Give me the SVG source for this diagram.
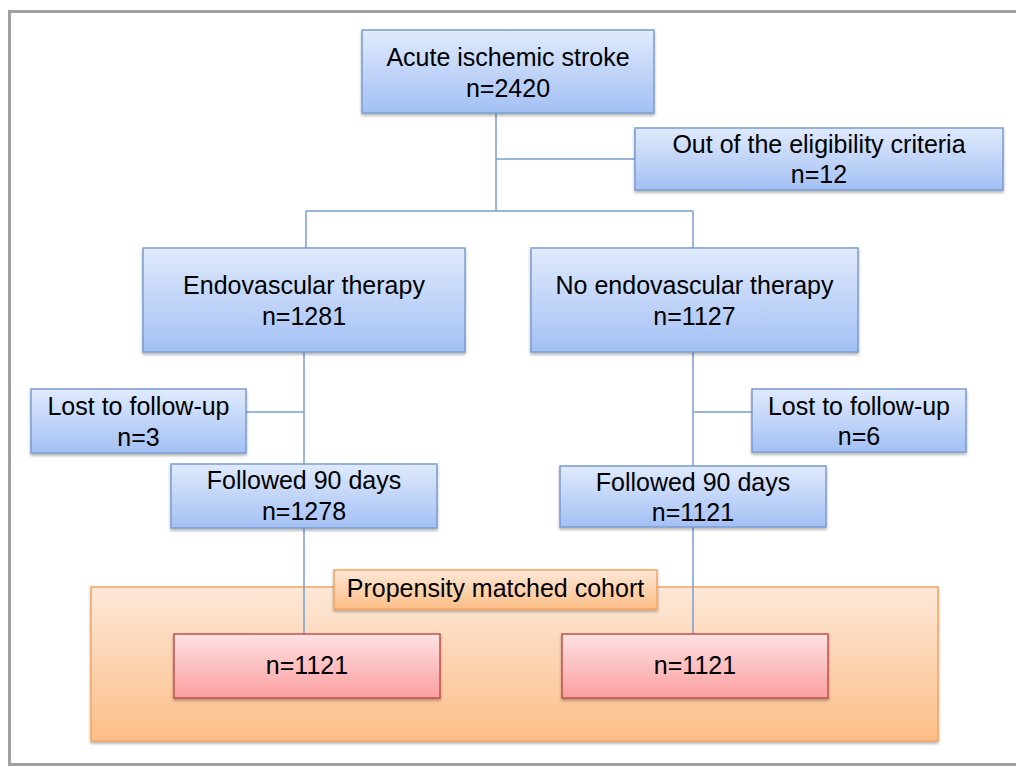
<svg xmlns="http://www.w3.org/2000/svg" width="1016" height="766" viewBox="0 0 1016 766">
<defs>
<linearGradient id="gBlue" x1="0" y1="0" x2="0" y2="1"><stop offset="0" stop-color="#e0eafc"/><stop offset="1" stop-color="#a3c0f4"/></linearGradient>
<linearGradient id="gPink" x1="0" y1="0" x2="0" y2="1"><stop offset="0" stop-color="#fde1e3"/><stop offset="1" stop-color="#fb9f9f"/></linearGradient>
<linearGradient id="gOrange" x1="0" y1="0" x2="0" y2="1"><stop offset="0" stop-color="#fde8d8"/><stop offset="1" stop-color="#fcbe87"/></linearGradient>
<filter id="sh" x="-5%" y="-10%" width="110%" height="130%"><feDropShadow dx="0" dy="2" stdDeviation="1.5" flood-color="#000" flood-opacity="0.3"/></filter>
<style>
.b{fill:url(#gBlue);stroke:#7a9cd0;stroke-width:1.5;filter:url(#sh)}
.p{fill:url(#gPink);stroke:#c0504d;stroke-width:1.5;filter:url(#sh)}
.o{fill:url(#gOrange);stroke:#f4a460;stroke-width:1.5;filter:url(#sh)}
.t{font-family:"Liberation Sans",Arial,sans-serif;font-size:25px;fill:#000;text-anchor:middle}
.c{stroke:#7a9fd0;stroke-width:1.5;fill:none}
</style>
</defs>
<rect x="0" y="0" width="1016" height="766" fill="#fff"/>
<rect x="9.5" y="11.5" width="1020" height="753" fill="none" stroke="#a0a0a0" stroke-width="3"/>
<g id="cohort"><rect class="o" x="91" y="587" width="847" height="154"/></g>
<g id="connectors">
<path class="c" d="M496 113V211M496 159H635M306 211H693M306 211V248M693 211V248M304 352V634M246 412H304M693 352V634M693 412H752"/>
</g>
<g id="n1"><rect class="b" x="362" y="30" width="292" height="83"/><text class="t" x="508" y="66">Acute ischemic stroke</text><text class="t" x="508" y="97">n=2420</text></g>
<g id="n2"><rect class="b" x="635" y="128" width="368" height="62"/><text class="t" x="819" y="153">Out of the eligibility criteria</text><text class="t" x="819" y="183">n=12</text></g>
<g id="n3"><rect class="b" x="143" y="248" width="322" height="104"/><text class="t" x="304" y="294">Endovascular therapy</text><text class="t" x="304" y="325">n=1281</text></g>
<g id="n4"><rect class="b" x="531" y="248" width="327" height="104"/><text class="t" x="694.5" y="294">No endovascular therapy</text><text class="t" x="694.5" y="325">n=1127</text></g>
<g id="n5"><rect class="b" x="31" y="389" width="215" height="64"/><text class="t" x="138.5" y="415">Lost to follow-up</text><text class="t" x="138.5" y="446">n=3</text></g>
<g id="n6"><rect class="b" x="752" y="389" width="214" height="63"/><text class="t" x="859" y="415">Lost to follow-up</text><text class="t" x="859" y="445">n=6</text></g>
<g id="n7"><rect class="b" x="171" y="464" width="266" height="64"/><text class="t" x="304" y="489">Followed 90 days</text><text class="t" x="304" y="520">n=1278</text></g>
<g id="n8"><rect class="b" x="560" y="466" width="266" height="61"/><text class="t" x="693" y="491">Followed 90 days</text><text class="t" x="693" y="521">n=1121</text></g>
<g id="n9"><rect class="o" x="334" y="570" width="323" height="39"/><text class="t" x="495.5" y="597">Propensity matched cohort</text></g>
<g id="n10"><rect class="p" x="174" y="634" width="266" height="64"/><text class="t" x="307" y="674">n=1121</text></g>
<g id="n11"><rect class="p" x="562" y="634" width="266" height="64"/><text class="t" x="695" y="674">n=1121</text></g>
</svg>
